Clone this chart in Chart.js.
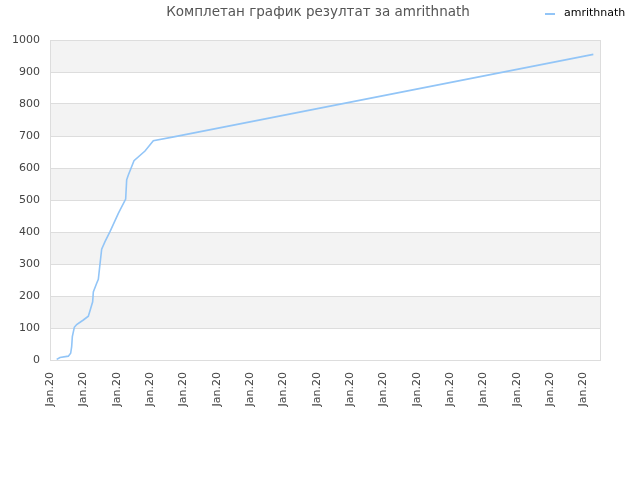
<!DOCTYPE html>
<html><head><meta charset="utf-8">
<script src="https://cdn.jsdelivr.net/npm/chart.js@4"></script>
<style>html,body{margin:0;padding:0;background:#fff;}#c{display:block;}</style>
</head><body>
<canvas id="c" width="640" height="480"></canvas>
<script>
const titleText = 'Комплетан график резултат за amrithnath';
const seriesName = 'amrithnath';
const xPositions = [0.20,0.30,0.55,0.62,0.65,0.67,0.73,0.80,1.00,1.15,1.22,1.28,1.30,1.40,1.45,1.50,1.55,1.65,1.80,2.05,2.27,2.30,2.35,2.52,2.85,3.10,3.75,16.30];
const scores = [2,8,12,21,42,73,102,111,125,137,161,182,213,240,252,300,346,370,401,458,503,563,578,623,653,685,698,955];
const xTickLabel = 'Jan.20';
const yTicks = [0,100,200,300,400,500,600,700,800,900,1000];

const lineColor = '#92c5f7';
const FONT = '"DejaVu Sans", sans-serif';

const decor = {
  id: 'decor',
  beforeDraw(chart) {
    const {ctx, chartArea: a, scales: {y}} = chart;
    ctx.save();
    ctx.fillStyle = '#f3f3f3';
    for (let i = 0; i < yTicks.length - 1; i++) {
      if (i % 2 === 1) {
        const t = y.getPixelForValue(yTicks[i + 1]);
        const b = y.getPixelForValue(yTicks[i]);
        ctx.fillRect(a.left, t, a.right - a.left, b - t);
      }
    }
    ctx.restore();
  },
  afterDraw(chart) {
    const {ctx, chartArea: a} = chart;
    ctx.save();
    ctx.strokeStyle = '#dddddd';
    ctx.lineWidth = 1;
    ctx.strokeRect(Math.round(a.left) + 0.5, Math.round(a.top) + 0.5, Math.round(a.right - a.left), Math.round(a.bottom - a.top));
    ctx.fillStyle = '#555555';
    ctx.font = '13.5px ' + FONT;
    ctx.textAlign = 'center';
    ctx.textBaseline = 'middle';
    ctx.fillText(titleText, 318, 12);
    ctx.strokeStyle = lineColor;
    ctx.lineWidth = 2;
    ctx.beginPath(); ctx.moveTo(545, 14); ctx.lineTo(555, 14); ctx.stroke();
    ctx.fillStyle = '#000';
    ctx.font = '11px ' + FONT;
    ctx.textAlign = 'left';
    ctx.fillText(seriesName, 564, 13);
    ctx.restore();
  }
};

new Chart(document.getElementById('c'), {
  type: 'line',
  data: {
    datasets: [{
      label: seriesName,
      data: xPositions.map((x, i) => ({x: x, y: scores[i]})),
      borderColor: lineColor,
      backgroundColor: lineColor,
      borderWidth: 1.6,
      pointRadius: 0,
      tension: 0,
      fill: false
    }]
  },
  options: {
    responsive: false,
    animation: false,
    devicePixelRatio: 1,
    layout: {padding: {top: 40, right: 40, left: 0, bottom: 0}},
    plugins: {legend: {display: false}, title: {display: false}, tooltip: {enabled: false}},
    scales: {
      x: {
        type: 'linear', min: 0, max: 16.5,
        afterFit(s) { s.height = 120; },
        afterBuildTicks(s) { s.ticks = s.ticks.filter(t => Number.isInteger(t.value)); },
        grid: {display: false, drawTicks: false},
        border: {display: false},
        ticks: {
          stepSize: 1, autoSkip: false, minRotation: 90, maxRotation: 90, padding: 12,
          color: '#444', font: {size: 11, family: FONT},
          callback: () => xTickLabel
        }
      },
      y: {
        min: 0, max: 1000,
        afterFit(s) { s.width = 50; },
        grid: {color: '#dddddd', drawTicks: false},
        border: {display: false},
        ticks: {stepSize: 100, padding: 10, color: '#444', font: {size: 11, family: FONT},
          callback: v => String(v)}
      }
    }
  },
  plugins: [decor]
});
</script>
</body></html>
